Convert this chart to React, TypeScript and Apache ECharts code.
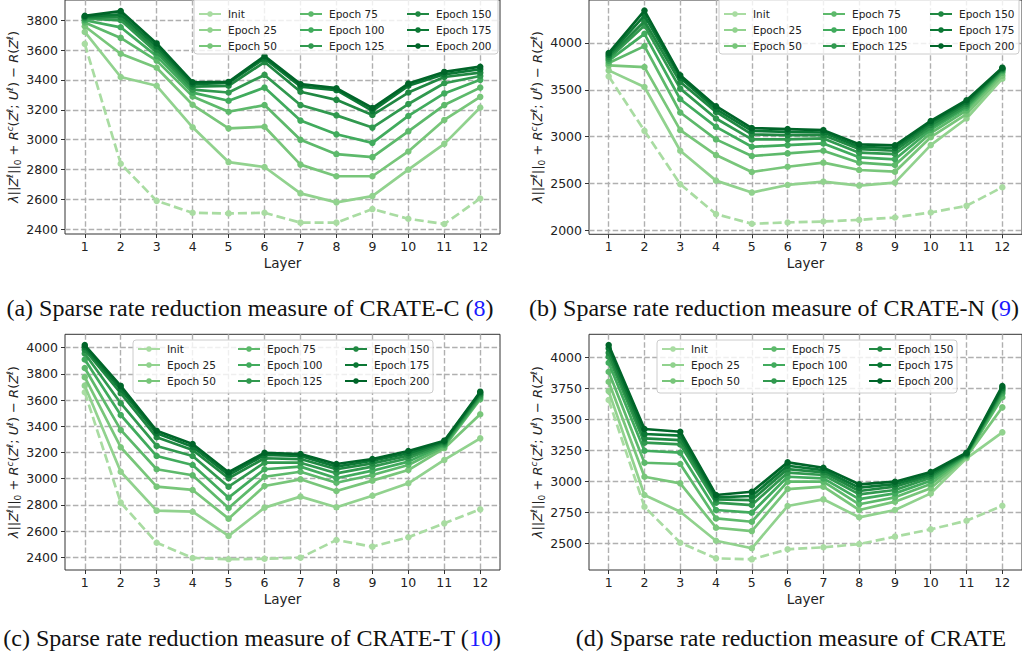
import React, { useEffect, useRef } from "react";
import * as echarts from "echarts";

const layers = [1, 2, 3, 4, 5, 6, 7, 8, 9, 10, 11, 12];
const seriesNames = ["Init", "Epoch 25", "Epoch 50", "Epoch 75", "Epoch 100", "Epoch 125", "Epoch 150", "Epoch 175", "Epoch 200"];
const seriesColors = ["#a9dca2", "#91d28e", "#78c67a", "#5db96b", "#41ab5d", "#31994f", "#208842", "#0c7835", "#006529"];

// (a) CRATE-C
const crateC: number[][] = [
  [3642, 2839, 2590, 2510, 2506, 2510, 2444, 2444, 2535, 2470, 2435, 2606],
  [3722, 3420, 3361, 3083, 2850, 2817, 2640, 2580, 2622, 2799, 2972, 3216],
  [3760, 3576, 3482, 3234, 3076, 3087, 2833, 2755, 2755, 2921, 3132, 3287],
  [3785, 3682, 3530, 3290, 3187, 3232, 2999, 2903, 2883, 3056, 3232, 3349],
  [3800, 3753, 3560, 3315, 3261, 3349, 3128, 3036, 2979, 3159, 3310, 3401],
  [3812, 3800, 3585, 3335, 3316, 3434, 3232, 3163, 3081, 3239, 3378, 3427],
  [3820, 3820, 3605, 3355, 3361, 3520, 3321, 3267, 3165, 3316, 3420, 3449],
  [3825, 3840, 3625, 3372, 3380, 3545, 3356, 3332, 3193, 3361, 3438, 3472],
  [3830, 3862, 3645, 3385, 3387, 3560, 3372, 3345, 3212, 3376, 3454, 3489],
];
// (b) CRATE-N
const crateN: number[][] = [
  [3643, 3063, 2495, 2177, 2074, 2088, 2098, 2116, 2141, 2194, 2265, 2463],
  [3706, 3529, 2851, 2533, 2406, 2487, 2522, 2480, 2512, 2911, 3194, 3618],
  [3759, 3741, 3070, 2805, 2625, 2681, 2724, 2646, 2628, 2995, 3240, 3650],
  [3785, 3964, 3258, 2972, 2795, 2823, 2851, 2724, 2699, 3040, 3280, 3680],
  [3810, 4095, 3399, 3105, 2893, 2911, 2929, 2781, 2760, 3075, 3310, 3700],
  [3830, 4183, 3512, 3194, 2972, 2972, 2982, 2830, 2816, 3100, 3330, 3712],
  [3850, 4229, 3582, 3264, 3025, 3017, 3017, 2869, 2851, 3125, 3350, 3720],
  [3870, 4289, 3629, 3293, 3063, 3052, 3045, 2893, 2880, 3150, 3370, 3728],
  [3890, 4342, 3653, 3325, 3092, 3081, 3070, 2919, 2908, 3168, 3388, 3735],
];
// (c) CRATE-T
const crateT: number[][] = [
  [3660, 2817, 2511, 2395, 2385, 2389, 2397, 2532, 2481, 2553, 2659, 2766],
  [3710, 3053, 2756, 2748, 2563, 2779, 2863, 2782, 2870, 2965, 3143, 3308],
  [3775, 3240, 2939, 2914, 2695, 2944, 2995, 2906, 2985, 3066, 3232, 3492],
  [3845, 3372, 3072, 3026, 2776, 3015, 3053, 2969, 3028, 3104, 3244, 3606],
  [3910, 3486, 3173, 3104, 2855, 3072, 3092, 3003, 3061, 3130, 3257, 3621],
  [3955, 3576, 3250, 3173, 2939, 3122, 3122, 3041, 3092, 3156, 3265, 3634],
  [3985, 3652, 3316, 3219, 3003, 3156, 3150, 3072, 3117, 3176, 3275, 3644],
  [4005, 3682, 3346, 3244, 3028, 3181, 3173, 3092, 3137, 3194, 3283, 3656],
  [4020, 3708, 3366, 3265, 3049, 3198, 3188, 3112, 3150, 3211, 3290, 3664],
];
// (d) CRATE
const crate: number[][] = [
  [3659, 2798, 2508, 2382, 2374, 2455, 2471, 2497, 2557, 2616, 2685, 2806],
  [3731, 2893, 2758, 2524, 2463, 2804, 2858, 2713, 2772, 2906, 3189, 3398],
  [3806, 3040, 2987, 2629, 2602, 2941, 2960, 2772, 2839, 2947, 3202, 3600],
  [3887, 3153, 3143, 2704, 2677, 3000, 3000, 2818, 2874, 2981, 3210, 3681],
  [3960, 3250, 3234, 2772, 2750, 3040, 3027, 2860, 2906, 3008, 3215, 3713],
  [4008, 3315, 3301, 2831, 2812, 3073, 3054, 2898, 2933, 3032, 3221, 3731],
  [4040, 3350, 3336, 2858, 2852, 3102, 3076, 2925, 2960, 3048, 3223, 3745],
  [4076, 3385, 3371, 2874, 2885, 3129, 3094, 2952, 2981, 3062, 3229, 3758],
  [4102, 3425, 3403, 2893, 2919, 3156, 3113, 2979, 3000, 3078, 3234, 3772],
];

const ticksC = [2400, 2600, 2800, 3000, 3200, 3400, 3600, 3800];
const ticksN = [2000, 2500, 3000, 3500, 4000];
const ticksT = [2400, 2600, 2800, 3000, 3200, 3400, 3600, 3800, 4000];
const ticksD = [2500, 2750, 3000, 3250, 3500, 3750, 4000];

const captionTexts = [
  ["(a) Sparse rate reduction measure of CRATE-C (", "8", ")"],
  ["(b) Sparse rate reduction measure of CRATE-N (", "9", ")"],
  ["(c) Sparse rate reduction measure of CRATE-T (", "10", ")"],
  ["(d) Sparse rate reduction measure of CRATE", "", ""],
];

const xLabel = "Layer";
const yName =
  "{i|λ}||{i|Z}{s|ℓ}||{b|0} + {i|R}{s|c}({i|Z}{s|ℓ}; {i|U}{s|ℓ}) − {i|R}({i|Z}{s|ℓ})";

const FONT = "DejaVu Sans";
const TXT = "#222";

export default function App() {
  const ref = useRef<HTMLDivElement>(null);
  useEffect(() => {
    if (!ref.current) return;
    const chart = echarts.init(ref.current, undefined, { renderer: "svg" });

    const panels = [
      { data: crateC, ticks: ticksC, min: 2368, max: 3936, left: 65, top: -1, width: 435, height: 235,
        legendCols: [198, 299, 406], legendTop: 8, box: [194, -6, 304, 60], cap: [250, 308] },
      { data: crateN, ticks: ticksN, min: 1962, max: 4455, left: 589, top: -0.6, width: 435.6, height: 234.9,
        legendCols: [723, 822, 929], legendTop: 8, box: [719, -6, 300, 60], cap: [774, 308] },
      { data: crateT, ticks: ticksT, min: 2303, max: 4102, left: 65, top: 334.3, width: 435, height: 235.7,
        legendCols: [137, 237, 344], legendTop: 343, box: [133, 340, 300, 53], cap: [252, 638] },
      { data: crate, ticks: ticksD, min: 2288, max: 4189, left: 589, top: 334.3, width: 435.6, height: 235.7,
        legendCols: [661, 762, 868], legendTop: 343, box: [657, 340, 300, 53], cap: [791, 638] },
    ];

    const grid: any[] = [];
    const xAxis: any[] = [];
    const yAxis: any[] = [];
    const series: any[] = [];
    const legend: any[] = [];
    const graphic: any[] = [];

    const gridLine = { show: true, lineStyle: { color: "#b0b0b0", width: 1.4, type: [5.5, 2.4] } };
    const plain = (v: number) => String(v);

    panels.forEach((p, pi) => {
      grid.push({
        left: p.left, top: p.top, width: p.width, height: p.height,
        show: true, borderColor: "#333", borderWidth: 1, backgroundColor: "transparent",
      });
      xAxis.push({
        type: "value", gridIndex: pi, min: 0.45, max: 12.55,
        name: xLabel, nameLocation: "middle", nameGap: 22,
        nameTextStyle: { fontFamily: FONT, fontSize: 13.5, color: TXT },
        axisLine: { show: false },
        axisTick: { show: true, length: 4, lineStyle: { color: "#333" }, customValues: layers },
        axisLabel: { fontFamily: FONT, fontSize: 12.5, color: TXT, margin: 6, customValues: layers, formatter: plain },
        splitLine: gridLine,
      });
      yAxis.push({
        type: "value", gridIndex: pi, min: p.min, max: p.max,
        name: yName, nameLocation: "middle", nameGap: 42,
        nameTextStyle: {
          fontFamily: FONT, fontSize: 13, color: TXT, lineHeight: 17,
          rich: {
            i: { fontFamily: FONT, fontSize: 13, fontStyle: "italic", color: TXT },
            s: { fontFamily: FONT, fontSize: 9, fontStyle: "italic", color: TXT, verticalAlign: "top" },
            b: { fontFamily: FONT, fontSize: 9, color: TXT, verticalAlign: "bottom" },
          },
        },
        axisLine: { show: false },
        axisTick: { show: true, length: 4, lineStyle: { color: "#333" }, customValues: p.ticks },
        axisLabel: { fontFamily: FONT, fontSize: 12.5, color: TXT, margin: 7, customValues: p.ticks, formatter: plain },
        splitLine: gridLine,
      });
      p.data.forEach((vals, si) => {
        series.push({
          type: "line", name: seriesNames[si], xAxisIndex: pi, yAxisIndex: pi,
          data: layers.map((l, k) => [l, vals[k]]),
          symbol: "circle", symbolSize: 6.5, showSymbol: true,
          itemStyle: { color: seriesColors[si] },
          lineStyle: { color: seriesColors[si], width: 2.7, type: si === 0 ? [9, 4] : "solid" },
          z: 2 + si * 0.01,
          emphasis: { disabled: true },
        });
      });
      for (let c = 0; c < 3; c++) {
        legend.push({
          orient: "vertical", left: p.legendCols[c], top: p.legendTop,
          padding: 0, itemGap: 4, itemWidth: 22, itemHeight: 7,
          selectedMode: false, z: 6,
          textStyle: { fontFamily: FONT, fontSize: 10.5, color: TXT, lineHeight: 12, padding: [0, 0, 0, 2] },
          data: seriesNames.slice(c * 3, c * 3 + 3),
        });
      }
      graphic.push({
        type: "rect", z: 5,
        shape: { x: p.box[0], y: p.box[1], width: p.box[2], height: p.box[3], r: 3 },
        style: { fill: "rgba(255,255,255,0.8)", stroke: "#cccccc", lineWidth: 1 },
      });
      const ct = captionTexts[pi];
      graphic.push({
        type: "text", z: 5, x: p.cap[0], y: p.cap[1],
        style: {
          text: ct[1] ? `${ct[0]}{r|${ct[1]}}${ct[2]}` : ct[0],
          font: "24px 'Liberation Serif'", fill: "#111",
          align: "center", verticalAlign: "middle",
          rich: { r: { fill: "#1a1aff", font: "24px 'Liberation Serif'" } },
        },
      });
    });

    chart.setOption({
      animation: false,
      backgroundColor: "#ffffff",
      grid, xAxis, yAxis, series, legend, graphic,
    });
    return () => chart.dispose();
  }, []);
  return (
    <div
      ref={ref}
      style={{ position: "fixed", left: 0, top: 0, width: 1022, height: 659, background: "#fff" }}
    />
  );
}
